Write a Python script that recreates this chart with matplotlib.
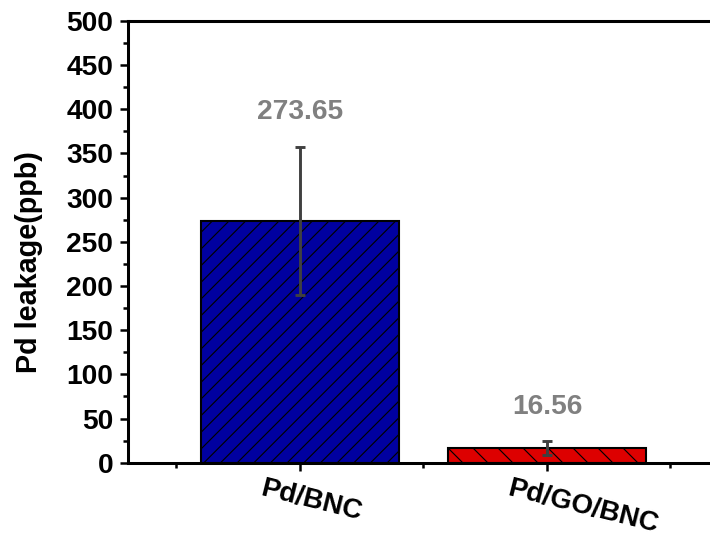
import matplotlib
matplotlib.use("Agg")
import matplotlib.pyplot as plt
from matplotlib.ticker import MultipleLocator

# Pd leakage measured for the two catalysts
categories = ["Pd/BNC", "Pd/GO/BNC"]
leakage = [273.65, 16.56]
errors = [84.0, 8.0]
value_labels = ["273.65", "16.56"]

bar_colors = ["#0000A0", "#DD0000"]
bar_hatches = ["///", "\\\\"]

DPI = 150
plt.rcParams["font.family"] = ["Liberation Sans", "DejaVu Sans"]
plt.rcParams["font.weight"] = "bold"
plt.rcParams["hatch.linewidth"] = 0.55

fig = plt.figure(figsize=(710 / DPI, 539 / DPI), dpi=DPI)
ax = fig.add_axes([0.1803, 0.1416, 0.938, 0.8195])

x = [1, 2]
ax.bar(x, leakage, width=0.8, color=bar_colors, edgecolor="black",
       hatch=bar_hatches, linewidth=1.0, zorder=2)
ax.errorbar(x, leakage, yerr=errors, fmt="none", ecolor="#404040",
            elinewidth=1.4, capsize=2.6, capthick=1.4, zorder=3)

for xi, v, e, txt in zip(x, leakage, errors, value_labels):
    ax.text(xi, v + e + 39, txt, ha="center", va="center",
            color="#808080", fontsize=13.5, fontweight="bold")

ax.set_xlim(0.304, 3.0)
ax.set_ylim(0, 500)

ax.yaxis.set_major_locator(MultipleLocator(50))
ax.yaxis.set_minor_locator(MultipleLocator(25))
ax.set_xticks(x)
ax.set_xticklabels([])
ax.xaxis.set_minor_locator(MultipleLocator(0.5))

ax.tick_params(axis="y", which="major", direction="out", length=3.8,
               width=1.2, pad=3.4, labelsize=13.5)
ax.tick_params(axis="y", which="minor", direction="out", length=2.4,
               width=1.2)
ax.tick_params(axis="x", which="major", direction="out", length=3.8,
               width=1.2)
ax.tick_params(axis="x", which="minor", direction="out", length=2.4,
               width=1.2)
for lab in ax.get_yticklabels():
    lab.set_fontweight("bold")

for side in ["left", "bottom", "top"]:
    ax.spines[side].set_linewidth(1.45)
ax.spines["right"].set_visible(False)

top = ax.secondary_xaxis("top")
top.set_xticks([0.5, 1, 1.5, 2, 2.5])
top.tick_params(direction="in", length=1.0, width=0.8, labeltop=False)
top.spines["top"].set_linewidth(1.45)

# category names, slanted below the axis
for xi, name in zip(x, categories):
    ax.annotate(name, xy=(xi, 0), xycoords=("data", "axes fraction"),
                xytext=(-20.2, -6.4), textcoords="offset points",
                ha="left", va="top", rotation=-14,
                fontsize=13.3, fontweight="bold")

fig.text(29 / 710, 1 - 262 / 539, "Pd leakage(ppb)", rotation=90,
         ha="center", va="center", fontsize=13.8, fontweight="bold")

fig.savefig("out.png", dpi=DPI)
